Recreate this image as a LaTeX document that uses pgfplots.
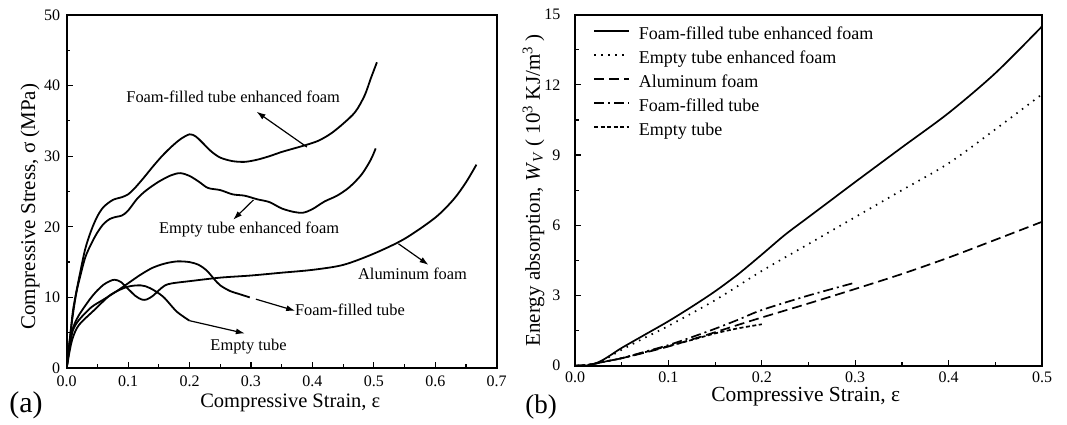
\documentclass[border=0pt]{standalone}
\usepackage{fontspec}
\setmainfont{Liberation Serif}
\usepackage{pgfplots}
\pgfplotsset{compat=1.18}
\usetikzlibrary{arrows.meta}

\newcommand{\fsz}[1]{\fontsize{#1}{#1}\selectfont}

\pgfplotsset{
  panel/.style={
    scale only axis, anchor=south west,
    xtick pos=bottom, ytick pos=left, tick align=inside,
    minor x tick num=1, minor y tick num=1,
    major tick length=6pt, minor tick length=3.5pt,
    every tick/.style={black, line width=1.2pt},
    axis line style={line width=1.8pt},
    /pgf/number format/assume math mode=true,
    tick label style={font=\fsz{16}},
    x tick label style={/pgf/number format/fixed, /pgf/number format/fixed zerofill,
      /pgf/number format/precision=1},
  },
}
\tikzset{ann/.style={-{Latex[length=9pt,width=6pt]}, line width=1.2pt}}

\begin{document}
\begin{tikzpicture}
\useasboundingbox (0,0) rectangle (1067pt,425pt);

% (a) stress-strain
\begin{axis}[panel,
  at={(66.7pt,57pt)}, width=430pt, height=353pt,
  xmin=0, xmax=0.7, ymin=0, ymax=50,
  xtick={0,0.1,0.2,0.3,0.4,0.5,0.6,0.7},
  ytick={0,10,20,30,40,50},
  x tick label style={yshift=-4pt},
  y tick label style={xshift=-3pt},
  every axis x label/.style={at={(axis description cs:0.52,-0.099)}, anchor=center, font=\fsz{20.5}},
  every axis y label/.style={at={(axis description cs:-0.085,0.099)}, rotate=90, anchor=west, font=\fsz{21}},
  xlabel={Compressive Strain, ε},
  ylabel={Compressive Stress, σ (MPa)},
]
% foam-filled tube enhanced foam
\addplot[black, line width=1.8pt, smooth, tension=0.5] coordinates {
(0,0) (0.005,4) (0.01,8) (0.015,10.5) (0.02,12.7) (0.03,16.8) (0.04,19.5) (0.05,21.5)
(0.06,22.8) (0.075,23.8) (0.09,24.2) (0.1,24.6) (0.11,25.4) (0.125,26.9) (0.14,28.5)
(0.155,30) (0.17,31.3) (0.185,32.4) (0.2,33.1) (0.21,32.8) (0.22,32) (0.235,30.7)
(0.25,29.8) (0.27,29.3) (0.29,29.2) (0.31,29.5) (0.33,30) (0.35,30.6) (0.37,31.1)
(0.39,31.6) (0.41,32.2) (0.43,33.2) (0.45,34.6) (0.47,36.3) (0.485,38.6) (0.495,41) (0.505,43.3)
};
% empty tube enhanced foam
\addplot[black, line width=1.8pt, smooth, tension=0.5] coordinates {
(0,0) (0.005,4) (0.01,7.5) (0.015,10.3) (0.02,12.3) (0.03,15.6) (0.04,17.6) (0.05,19.2)
(0.06,20.4) (0.07,21.1) (0.08,21.4) (0.09,21.6) (0.1,22.3) (0.115,24) (0.13,25.2)
(0.15,26.4) (0.17,27.3) (0.185,27.6) (0.2,27.2) (0.215,26.4) (0.23,25.5) (0.25,25.2)
(0.27,24.6) (0.29,24.4) (0.31,23.9) (0.33,23.5) (0.35,22.6) (0.37,22.1) (0.385,22)
(0.4,22.5) (0.42,23.6) (0.44,24.4) (0.46,25.6) (0.48,27.4) (0.495,29.5) (0.503,31.1)
};
% aluminum foam
\addplot[black, line width=1.8pt, smooth, tension=0.5] coordinates {
(0,0) (0.004,3) (0.008,5) (0.013,6.3) (0.02,7.5) (0.03,8.8) (0.04,10) (0.05,11)
(0.06,11.8) (0.07,12.3) (0.078,12.5) (0.088,12.2) (0.1,11.2) (0.112,10.2) (0.122,9.7)
(0.13,9.7) (0.14,10.2) (0.15,11) (0.16,11.7) (0.172,12) (0.2,12.3) (0.25,12.8)
(0.3,13.1) (0.35,13.5) (0.4,13.9) (0.45,14.6) (0.5,16.2) (0.55,18.3) (0.6,21.3)
(0.63,23.9) (0.65,26.3) (0.667,28.8)
};
% foam-filled tube
\addplot[black, line width=1.8pt, smooth, tension=0.5] coordinates {
(0,0) (0.005,3) (0.01,5.3) (0.02,6.8) (0.04,8.6) (0.06,9.7) (0.08,10.8) (0.1,12)
(0.12,13.2) (0.14,14.2) (0.16,14.8) (0.18,15.1) (0.2,15) (0.215,14.6) (0.228,13.8)
(0.24,12.6) (0.25,11.7) (0.266,10.9) (0.28,10.5) (0.298,10)
};
% empty tube
\addplot[black, line width=1.8pt, smooth, tension=0.5] coordinates {
(0,0) (0.005,2.5) (0.01,4.3) (0.02,6.1) (0.046,8.3) (0.072,10.4) (0.099,11.5)
(0.121,11.7) (0.136,11.3) (0.157,10.1) (0.179,8) (0.2,6.7)
};
\node[font=\fsz{16.4}] at (axis cs:0.271,38.4) {Foam-filled tube enhanced foam};
\draw[ann] (axis cs:0.391,31.3) -- (axis cs:0.309,36.3);
\node[font=\fsz{16.4}] at (axis cs:0.297,19.55) {Empty tube enhanced foam};
\draw[ann] (axis cs:0.304,23.8) -- (axis cs:0.271,21.0);
\node[font=\fsz{16.4}] at (axis cs:0.563,13.4) {Aluminum foam};
\draw[ann] (axis cs:0.54,17.6) -- (axis cs:0.589,14.6);
\node[font=\fsz{16.4}] at (axis cs:0.461,8.2) {Foam-filled tube};
\draw[ann] (axis cs:0.308,9.75) -- (axis cs:0.372,8.1);
\node[font=\fsz{16.4}] at (axis cs:0.296,3.0) {Empty tube};
\draw[ann] (axis cs:0.2,6.7) -- (axis cs:0.29,4.9);
\end{axis}
\node[font=\fsz{30}] at (26pt,20pt) {(a)};

% (b) energy absorption
\begin{axis}[panel,
  at={(575pt,59.3pt)}, width=467pt, height=351pt,
  xmin=0, xmax=0.5, ymin=0, ymax=15,
  xtick={0,0.1,0.2,0.3,0.4,0.5},
  ytick={0,3,6,9,12,15},
  x tick label style={yshift=-3pt},
  y tick label style={xshift=-11pt},
  every axis x label/.style={at={(axis description cs:0.494,-0.088)}, anchor=center, font=\fsz{21.5}},
  every axis y label/.style={at={(axis description cs:-0.089,0.045)}, rotate=90, anchor=west, font=\fsz{21}},
  xlabel={Compressive Strain, ε},
  ylabel={Energy absorption, \textit{W}\textsubscript{\textit{V}} ( 10\textsuperscript{3} KJ/m\textsuperscript{3} )},
  legend style={at={(axis description cs:0.0385,0.966)}, anchor=north west,
    draw=none, fill=none, inner sep=0pt, row sep=7pt, font=\fsz{18},
    nodes={inner sep=0pt, text height=13pt, text depth=4pt},
    /tikz/every odd column/.style={column sep=9pt}},
  legend cell align=left,
  legend image code/.code={\draw[#1] (0pt,4.5pt) -- (35pt,4.5pt);},
]
\addplot[black, line width=1.7pt, smooth] coordinates {
(0,0) (0.01,0) (0.02,0.07) (0.03,0.25) (0.04,0.5) (0.05,0.76) (0.075,1.33) (0.1,1.9)
(0.125,2.52) (0.15,3.18) (0.175,3.92) (0.2,4.75) (0.225,5.6) (0.25,6.35) (0.275,7.1)
(0.3,7.85) (0.35,9.33) (0.4,10.8) (0.45,12.5) (0.5,14.5)
};
\addlegendentry{Foam-filled tube enhanced foam}
\addplot[black, line width=1.7pt, smooth, dash pattern=on 1.5pt off 5.5pt] coordinates {
(0,0) (0.01,0) (0.02,0.06) (0.03,0.22) (0.05,0.68) (0.075,1.2) (0.1,1.7) (0.15,2.8)
(0.2,4.05) (0.25,5.2) (0.3,6.35) (0.35,7.5) (0.4,8.65) (0.45,10.1) (0.5,11.6)
};
\addlegendentry{Empty tube enhanced foam}
\addplot[black, line width=1.7pt, smooth, dash pattern=on 10pt off 5pt] coordinates {
(0,0) (0.01,0.02) (0.02,0.08) (0.03,0.16) (0.05,0.32) (0.075,0.56) (0.1,0.82)
(0.125,1.12) (0.15,1.43) (0.175,1.75) (0.2,2.06) (0.25,2.66) (0.3,3.28) (0.35,3.92)
(0.4,4.62) (0.45,5.38) (0.5,6.15)
};
\addlegendentry{Aluminum foam}
\addplot[black, line width=1.7pt, smooth, dash pattern=on 10pt off 4pt on 2pt off 4pt] coordinates {
(0,0) (0.01,0.02) (0.02,0.08) (0.03,0.16) (0.05,0.32) (0.075,0.6) (0.1,0.88)
(0.125,1.22) (0.15,1.58) (0.175,1.97) (0.2,2.38) (0.25,3.0) (0.3,3.55)
};
\addlegendentry{Foam-filled tube}
\addplot[black, line width=1.7pt, smooth, dash pattern=on 4pt off 2.5pt] coordinates {
(0,0) (0.01,0.02) (0.02,0.08) (0.03,0.16) (0.05,0.32) (0.075,0.58) (0.1,0.84)
(0.125,1.1) (0.15,1.38) (0.175,1.6) (0.2,1.77)
};
\addlegendentry{Empty tube}
\end{axis}
\node[font=\fsz{27}] at (541pt,18pt) {(b)};
\end{tikzpicture}
\end{document}
